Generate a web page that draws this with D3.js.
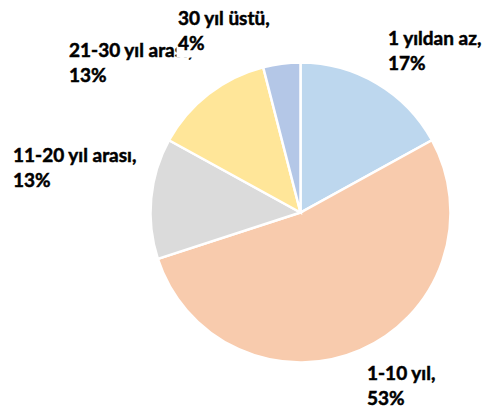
<!DOCTYPE html>
<html><head><meta charset="utf-8">
<script src="https://cdn.jsdelivr.net/npm/d3@7"></script>
<style>html,body{margin:0;padding:0;background:#fff;overflow:hidden}</style>
</head><body>
<svg id="c" width="482" height="412"></svg>
<script>
const categories = ["1 yıldan az", "1-10 yıl", "11-20 yıl arası", "21-30 yıl arası", "30 yıl üstü"];
const values = [17, 53, 13, 13, 4];
const colors = ["#BDD7EE", "#F8CBAD", "#DBDBDB", "#FFE699", "#B4C7E7"];
// label anchor (left x, first baseline) per category
const labelPos = [[388, 45], [367, 380], [13, 162], [69, 57], [178, 25]];
const drawOrder = [0, 1, 2, 3, 4];

const svg = d3.select("#c");
const cx = 300.5, cy = 212.5, R = 150;
const pie = d3.pie().sort(null).value(d => d)(values);
const arc = d3.arc().innerRadius(0).outerRadius(R);
const g = svg.append("g").attr("transform", `translate(${cx},${cy})`);
g.selectAll("path").data(pie).join("path")
  .attr("d", arc)
  .attr("fill", (d, i) => colors[i])
  .attr("stroke", "#fff")
  .attr("stroke-width", 2.5)
  .attr("stroke-linejoin", "miter");

const lg = svg.append("g")
  .attr("font-family", "Lato, 'Open Sans', sans-serif")
  .attr("font-weight", "bold")
  .attr("font-size", "19px")
  .attr("fill", "#000")
  .attr("stroke", "#000")
  .attr("stroke-width", 0.5);
drawOrder.forEach(i => {
  const [x, y] = labelPos[i];
  const grp = lg.append("g");
  if (i === 4) {
    grp.append("rect").attr("x", x - 1.5).attr("y", y - 22).attr("width", 112).attr("height", 54.5)
      .attr("fill", "#fff").attr("stroke", "none");
  }
  const t = grp.append("text").attr("x", x).attr("y", y);
  t.append("tspan").attr("x", x).attr("y", y).text(categories[i] + ",");
  t.append("tspan").attr("x", x).attr("y", y + 25).text(values[i] + "%");
});
</script>
</body></html>
